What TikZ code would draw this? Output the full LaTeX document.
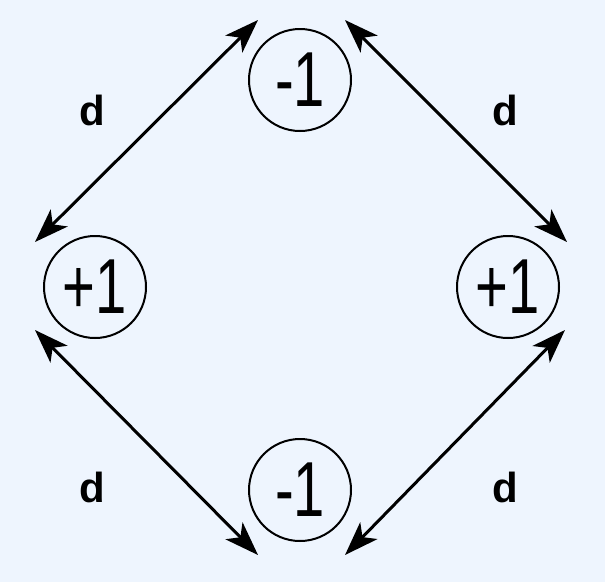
\documentclass[tikz,border=0pt]{standalone}
\usepackage{fontspec}
\setmainfont{Liberation Sans}
\usetikzlibrary{arrows.meta}
\definecolor{bgblue}{RGB}{238,245,254}
\newcommand{\chg}[1]{\scalebox{0.72}[1]{\fontsize{78}{78}\selectfont #1}}
\tikzset{
  charge/.style={draw,circle,line width=2pt,minimum size=102pt,inner sep=0pt},
  link/.style={line width=3pt,{Stealth[length=34pt,width=24pt,inset=9pt]}-{Stealth[length=34pt,width=24pt,inset=9pt]}},
  dist/.style={font=\bfseries\fontsize{42}{42}\selectfont}
}
\begin{document}
\begin{tikzpicture}[x=1pt,y=-1pt]
  \fill[bgblue] (0,0) rectangle (605,582);
  \useasboundingbox (0,0) rectangle (605,582);
  % charges
  \node[charge] (top) at (300,80) {\chg{-1}};
  \node[charge] (left) at (95,287) {\chg{+1}};
  \node[charge] (right) at (508,287) {\chg{+1}};
  \node[charge] (bottom) at (300,490) {\chg{-1}};
  % arrow ends
  \coordinate (tl1) at (35,242);  \coordinate (tl2) at (258,20);
  \coordinate (tr1) at (345,20);  \coordinate (tr2) at (567,242);
  \coordinate (bl1) at (35,330);  \coordinate (bl2) at (258,555);
  \coordinate (br1) at (345,555); \coordinate (br2) at (565,330);
  \draw[link] (tl1) -- (tl2);
  \draw[link] (tr1) -- (tr2);
  \draw[link] (bl1) -- (bl2);
  \draw[link] (br1) -- (br2);
  % labels
  \node[dist] (d1) at (92,110) {d};
  \node[dist] (d2) at (505,110) {d};
  \node[dist] (d3) at (92,487) {d};
  \node[dist] (d4) at (505,487) {d};
\end{tikzpicture}
\end{document}
